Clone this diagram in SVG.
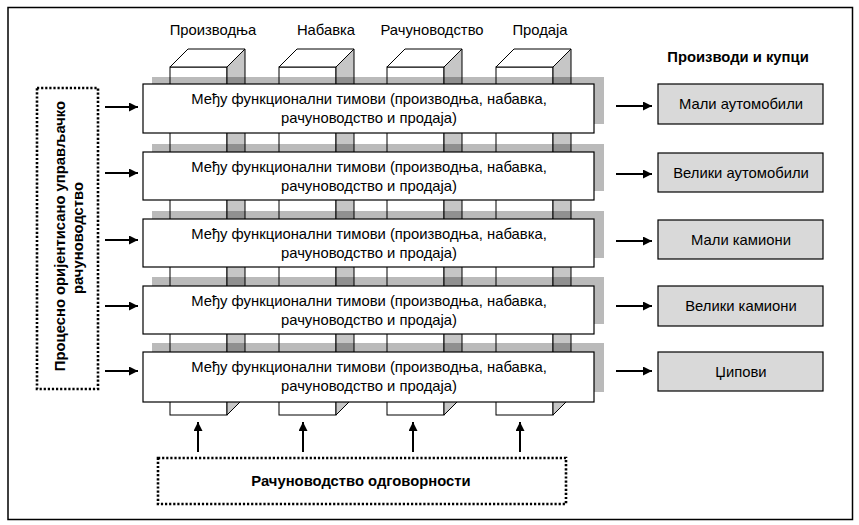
<svg xmlns="http://www.w3.org/2000/svg" width="859" height="525" viewBox="0 0 859 525">
<defs>
<marker id="ah" viewBox="0 0 10 10" refX="10" refY="5" markerWidth="4.5" markerHeight="4.5" orient="auto" markerUnits="strokeWidth">
<path d="M0,0 L10,5 L0,10 Z" fill="#000"/>
</marker>
<style>
.t{font-family:"Liberation Sans",Arial,sans-serif;font-size:14.8px;fill:#000}
.b{font-weight:bold}
.dot{fill:#fff;stroke:#000;stroke-width:2.6;stroke-dasharray:2.2 1.9}
.pf{fill:#fff;stroke:#000;stroke-width:1}
.ps{fill:#c6c6c6;stroke:#000;stroke-width:1}
.band{fill:#000;fill-opacity:0.27}
.box{fill:#fff;stroke:#000;stroke-width:1.2}
.prod{fill:#d9d9d9;stroke:#000;stroke-width:1.2}
.arr{stroke:#000;stroke-width:2;fill:none;marker-end:url(#ah)}
</style>
</defs>
<rect x="0" y="0" width="859" height="525" fill="#fff"/>
<rect x="8" y="7.5" width="844.5" height="512" fill="none" stroke="#000" stroke-width="1.5"/>

<g id="column-labels">
<text class="t" x="213" y="35" text-anchor="middle">Производња</text>
<text class="t" x="326" y="35" text-anchor="middle">Набавка</text>
<text class="t" x="432" y="35" text-anchor="middle">Рачуноводство</text>
<text class="t" x="540" y="35" text-anchor="middle">Продаја</text>
</g>

<g id="pillars">
<g id="pillar-1">
<rect class="pf" x="170" y="67" width="57" height="348"/>
<polygon class="pf" points="170,67 188,49 245,49 227,67"/>
<polygon class="ps" points="227,67 245,49 245,397 227,415"/>
</g>
<g id="pillar-2">
<rect class="pf" x="279" y="67" width="57" height="348"/>
<polygon class="pf" points="279,67 297,49 354,49 336,67"/>
<polygon class="ps" points="336,67 354,49 354,397 336,415"/>
</g>
<g id="pillar-3">
<rect class="pf" x="387" y="67" width="57" height="348"/>
<polygon class="pf" points="387,67 405,49 462,49 444,67"/>
<polygon class="ps" points="444,67 462,49 462,397 444,415"/>
</g>
<g id="pillar-4">
<rect class="pf" x="496" y="67" width="57" height="348"/>
<polygon class="pf" points="496,67 514,49 571,49 553,67"/>
<polygon class="ps" points="553,67 571,49 571,397 553,415"/>
</g>
</g>

<g id="team-1">
<rect class="band" x="152" y="77" width="452" height="47"/>
<rect class="box" x="143" y="84" width="451" height="49"/>
<text class="t" x="369" y="104" text-anchor="middle">Међу функционални тимови (производња, набавка,</text>
<text class="t" x="369" y="123" text-anchor="middle">рачуноводство и продаја)</text>
</g>
<g id="team-2">
<rect class="band" x="152" y="144" width="452" height="47"/>
<rect class="box" x="143" y="152" width="451" height="48"/>
<text class="t" x="369" y="172" text-anchor="middle">Међу функционални тимови (производња, набавка,</text>
<text class="t" x="369" y="191" text-anchor="middle">рачуноводство и продаја)</text>
</g>
<g id="team-3">
<rect class="band" x="152" y="211" width="452" height="47"/>
<rect class="box" x="143" y="219" width="451" height="48"/>
<text class="t" x="369" y="239" text-anchor="middle">Међу функционални тимови (производња, набавка,</text>
<text class="t" x="369" y="258" text-anchor="middle">рачуноводство и продаја)</text>
</g>
<g id="team-4">
<rect class="band" x="152" y="277" width="452" height="47"/>
<rect class="box" x="143" y="286" width="451" height="48"/>
<text class="t" x="369" y="306" text-anchor="middle">Међу функционални тимови (производња, набавка,</text>
<text class="t" x="369" y="325" text-anchor="middle">рачуноводство и продаја)</text>
</g>
<g id="team-5">
<rect class="band" x="152" y="343" width="452" height="49"/>
<rect class="box" x="143" y="352" width="451" height="50"/>
<text class="t" x="369" y="372" text-anchor="middle">Међу функционални тимови (производња, набавка,</text>
<text class="t" x="369" y="391" text-anchor="middle">рачуноводство и продаја)</text>
</g>

<g id="left-box">
<rect class="dot" x="37" y="88" width="61" height="301"/>
<text class="t b" transform="translate(65,236) rotate(-90)" text-anchor="middle">Процесно оријентисано управљачко</text>
<text class="t b" transform="translate(83,238) rotate(-90)" text-anchor="middle">рачуноводство</text>
</g>

<g id="bottom-box">
<rect class="dot" x="158" y="458" width="408" height="46"/>
<text class="t b" x="361" y="486" text-anchor="middle">Рачуноводство одговорности</text>
</g>

<g id="products-title">
<text class="t b" x="738" y="62" text-anchor="middle">Производи и купци</text>
</g>
<g id="product-1">
<rect class="prod" x="658" y="84" width="165" height="40"/>
<text class="t" x="741" y="109" text-anchor="middle">Мали аутомобили</text>
</g>
<g id="product-2">
<rect class="prod" x="658" y="153" width="165" height="39"/>
<text class="t" x="741" y="177.5" text-anchor="middle">Велики аутомобили</text>
</g>
<g id="product-3">
<rect class="prod" x="658" y="220" width="165" height="39"/>
<text class="t" x="741" y="244.5" text-anchor="middle">Мали камиони</text>
</g>
<g id="product-4">
<rect class="prod" x="658" y="286" width="165" height="40"/>
<text class="t" x="741" y="311" text-anchor="middle">Велики камиони</text>
</g>
<g id="product-5">
<rect class="prod" x="658" y="352" width="165" height="39"/>
<text class="t" x="741" y="376.5" text-anchor="middle">Џипови</text>
</g>

<g id="connectors">
<line class="arr" x1="105" y1="107" x2="138" y2="107"/>
<line class="arr" x1="105" y1="173" x2="138" y2="173"/>
<line class="arr" x1="105" y1="240" x2="138" y2="240"/>
<line class="arr" x1="105" y1="306" x2="138" y2="306"/>
<line class="arr" x1="105" y1="371" x2="138" y2="371"/>
<line class="arr" x1="616" y1="106" x2="652" y2="106"/>
<line class="arr" x1="616" y1="174" x2="652" y2="174"/>
<line class="arr" x1="616" y1="241" x2="652" y2="241"/>
<line class="arr" x1="616" y1="306" x2="652" y2="306"/>
<line class="arr" x1="616" y1="371" x2="652" y2="371"/>
<line class="arr" x1="198" y1="452" x2="198" y2="422"/>
<line class="arr" x1="303" y1="452" x2="303" y2="422"/>
<line class="arr" x1="413" y1="452" x2="413" y2="422"/>
<line class="arr" x1="520" y1="452" x2="520" y2="422"/>
</g>
</svg>
